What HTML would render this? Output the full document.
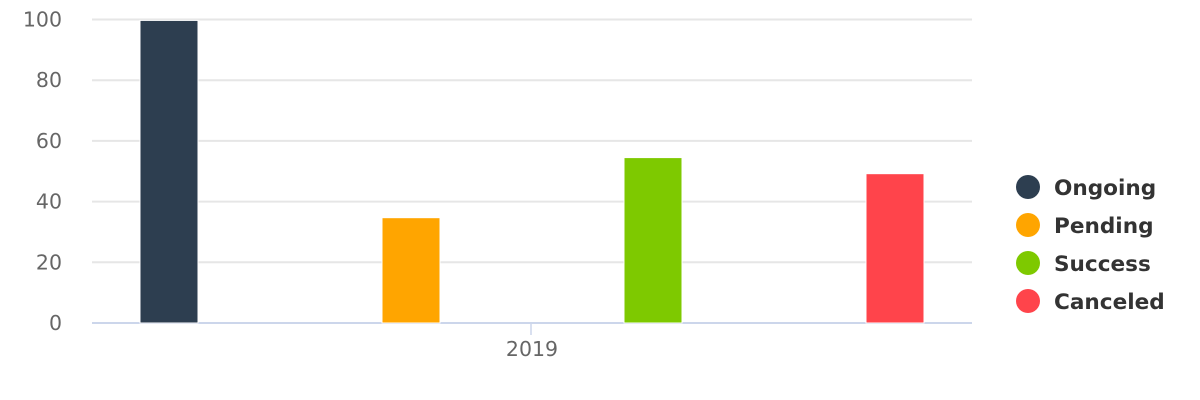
<!DOCTYPE html>
<html><head><meta charset="utf-8"><style>
html,body{margin:0;padding:0;background:#fff;width:1200px;height:400px;overflow:hidden}
svg text{font-family:"DejaVu Sans","Liberation Sans",sans-serif}
</style></head><body>
<svg id="chart" width="1200" height="400" xmlns="http://www.w3.org/2000/svg"></svg>
<script>
const categories = ["Ongoing","Pending","Success","Canceled"];
const values = [99.7, 34.7, 54.5, 49.2];
const colors = ["#2d3e50","#ffa500","#7ec900","#ff444b"];
const yTicks = [0,20,40,60,80,100];
const xLabel = "2019";

const NS="http://www.w3.org/2000/svg";
const svg=document.getElementById('chart');
const left=92,right=972,y0=323,yTop=19.5,yMax=100;
const y=v=>y0-(y0-yTop)*v/yMax;
function mk(t,a,p){const e=document.createElementNS(NS,t);for(const k in a)e.setAttribute(k,a[k]);(p||svg).appendChild(e);return e;}

yTicks.forEach(t=>{
  if(t>0){const l=mk('line',{x1:left,x2:right,y1:y(t),y2:y(t),stroke:'#e6e6e6','stroke-width':2});
  
  }
  const tx=mk('text',{x:62,y:y(t)+7,'text-anchor':'end','font-size':20.5,fill:'#666'});
  tx.textContent=t;
  
  
});
const ax=mk('line',{x1:left,x2:right,y1:y0,y2:y0,stroke:'#ccd6eb','stroke-width':2});


const tk=mk('line',{x1:531,x2:531,y1:y0,y2:y0+12,stroke:'#ccd6eb','stroke-width':1.5});


const xl=mk('text',{x:532,y:356,'text-anchor':'middle','font-size':20.5,fill:'#666'});
xl.textContent=xLabel;



const n=categories.length, slot=242, bw=58, start=140;
categories.forEach((c,i)=>{
  const x=start+i*slot;
  const r=mk('rect',{x:x,y:y(values[i]),width:bw,height:y0-y(values[i]),fill:colors[i],stroke:'#fff','stroke-width':1});
  
  
  const g=mk('g',{});
  
  
  const cy=187+i*38;
  mk('circle',{cx:1028,cy:cy,r:12,fill:colors[i]},g);
  const t=mk('text',{x:1054,y:cy+8,'font-size':21.6,'font-weight':'bold',fill:'#333'},g);
  t.textContent=c;
});
</script>
</body></html>
